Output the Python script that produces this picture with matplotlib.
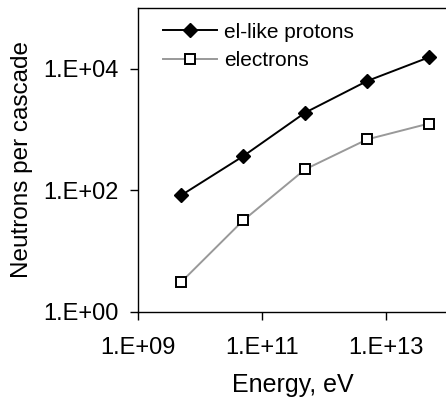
import matplotlib
matplotlib.use("Agg")
import matplotlib.pyplot as plt
from matplotlib.ticker import FixedLocator, FixedFormatter, NullLocator

plt.rcParams["font.family"] = ["Liberation Sans", "DejaVu Sans"]

# data
energy = [5e9, 5e10, 5e11, 5e12, 5e13]
protons = [83, 365, 1900, 6300, 15500]
electrons = [3.1, 32, 222, 690, 1260]

xticks = [1e9, 1e11, 1e13]
xtick_labels = ["1.E+09", "1.E+11", "1.E+13"]
yticks = [1e0, 1e2, 1e4]
ytick_labels = ["1.E+00", "1.E+02", "1.E+04"]

fig = plt.figure(figsize=(4.46, 4.01), dpi=100)
ax = fig.add_axes([0.309, 0.222, 0.695, 0.758])

ax.plot(energy, protons, color="black", lw=1.4, marker="D", ms=7.5,
        mfc="black", mec="black", label="el-like protons")
ax.plot(energy, electrons, color="#999999", lw=1.4, marker="s", ms=7,
        mfc="white", mec="black", mew=1.4, label="electrons")

ax.set_xscale("log")
ax.set_yscale("log")
ax.set_xlim(1e9, 1e14)
ax.set_ylim(1, 1e5)

ax.xaxis.set_major_locator(FixedLocator(xticks))
ax.xaxis.set_major_formatter(FixedFormatter(xtick_labels))
ax.xaxis.set_minor_locator(NullLocator())
ax.yaxis.set_major_locator(FixedLocator(yticks))
ax.yaxis.set_major_formatter(FixedFormatter(ytick_labels))
ax.yaxis.set_minor_locator(NullLocator())
ax.tick_params(direction="out", length=6, width=1, labelsize=17)
ax.tick_params(axis="x", pad=12)
ax.tick_params(axis="y", pad=8)

for s in ax.spines.values():
    s.set_linewidth(1)

ax.set_xlabel("Energy, eV", fontsize=18, labelpad=10)
ax.set_ylabel("Neutrons per cascade", fontsize=17.5, labelpad=7)

ax.legend(loc="upper left", bbox_to_anchor=(0.042, 0.993), frameon=False,
          fontsize=15, handlelength=2.6, borderaxespad=0.2,
          labelspacing=0.45, handletextpad=0.3)

fig.savefig("out.png", dpi=100)
